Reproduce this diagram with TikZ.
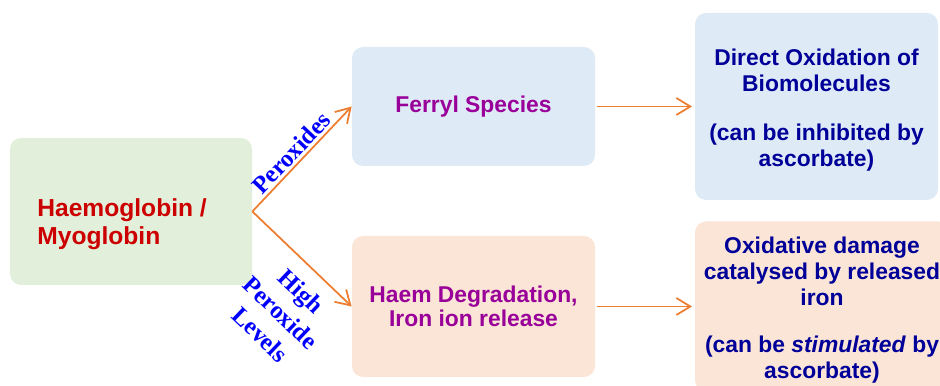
\documentclass[tikz,border=0pt]{standalone}
\usepackage{fontspec}
\setmainfont{Liberation Sans}
\newfontfamily\serifbold{Liberation Serif}
\usetikzlibrary{arrows.meta, positioning}
\definecolor{greenfill}{HTML}{E2EFDA}
\definecolor{bluefill}{HTML}{DEEAF6}
\definecolor{peachfill}{HTML}{FBE5D6}
\definecolor{haemred}{HTML}{CC0000}
\definecolor{speciespurple}{HTML}{990099}
\definecolor{effectnavy}{HTML}{000099}
\definecolor{arroworange}{HTML}{ED7D31}

\begin{document}
\begin{tikzpicture}[
    box/.style={rounded corners=0.22cm, inner sep=0pt, align=center, font=\bfseries\fontsize{13}{14.8}\selectfont},
    flow/.style={draw=arroworange, line width=1pt, -{Straight Barb[length=2.8mm,width=3.4mm]}},
    cond/.style={text=blue, font=\serifbold\bfseries\fontsize{14}{17}\selectfont, align=center}
  ]
      \useasboundingbox (0,0) rectangle (18.8,-7.72);
      \clip (0,0) rectangle (18.8,-7.72);
      % Boxes
      \node[box, fill=greenfill, minimum width=4.84cm, minimum height=2.94cm] (haemo) at (2.62,-4.23) {};
      \node[box, text=haemred, align=left, anchor=north west, font=\bfseries\fontsize{14}{16.4}\selectfont] (haemotxt) at (0.74,-3.96) {Haemoglobin /\\Myoglobin};
      \node[box, fill=bluefill, text=speciespurple, minimum width=4.86cm, minimum height=2.38cm] (ferryl) at (9.47,-2.13) {Ferryl Species};
      \node[box, fill=peachfill, text=speciespurple, minimum width=4.86cm, minimum height=2.82cm, font=\bfseries\fontsize{13}{13.6}\selectfont] (degrade) at (9.47,-6.13) {Haem Degradation,\\Iron ion release};
      \node[box, fill=bluefill, text=effectnavy, minimum width=4.86cm, minimum height=3.74cm] (direct) at (16.33,-2.13) {\rule{0pt}{14pt}Direct Oxidation of\\Biomolecules\\[13pt](can be inhibited by\\ascorbate)};
      \node[box, fill=peachfill, text=effectnavy, minimum width=5.08cm, minimum height=3.40cm] (damage) at (16.44,-6.13) {\rule{0pt}{14pt}Oxidative damage\\catalysed by released\\iron\\[12pt](can be \textit{stimulated} by\\ascorbate)};
      % Arrows
      \draw[flow] (haemo.east) -- (ferryl.west) node[cond, pos=0.48, sloped, above, inner sep=1.5pt] (perox) {Peroxides};
      \draw[flow] (haemo.east) -- (degrade.west) node[cond, pos=0.66, sloped, below, inner sep=8pt] (highperox) {High\\Peroxide\\Levels};
      \draw[flow, shorten <=1pt, shorten >=1.5pt] (ferryl.east) -- (direct.west);
      \draw[flow, shorten <=1pt, shorten >=1.5pt] (degrade.east) -- (damage.west);
\end{tikzpicture}
\end{document}
